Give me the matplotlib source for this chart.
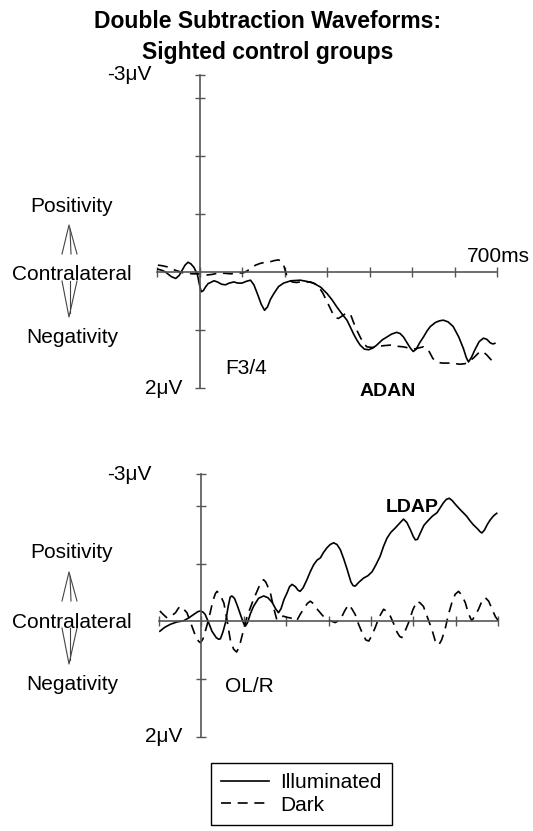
import matplotlib
matplotlib.use("Agg")
import matplotlib.pyplot as plt
from matplotlib.lines import Line2D

plt.rcParams['font.family'] = ['Liberation Sans', 'DejaVu Sans']

# ---- data (time in ms, amplitude in plot units; positive plotted downward) ----
f34_illum_t = [-98, -88, -80, -66, -56, -48, -41, -34, -27, -20, -13, -5, 0, 4, 9, 14, 20, 26, 34,
               42, 52, 61, 70, 81, 90, 100, 110, 120, 128, 136, 145, 153, 160, 167, 175, 186, 198,
               215, 237, 252, 268, 285, 300, 312, 323, 335, 347, 355, 362, 370, 378, 388, 398, 408,
               417, 430, 441, 452, 464, 472, 480, 490, 497, 503, 510, 518, 527, 535, 543, 555, 565,
               574, 585, 597, 610, 621, 628, 633, 640, 648, 658, 668, 676, 684, 690, 695]
f34_illum_v = [-0.05, -0.03, 0.0, 0.08, 0.11, 0.06, -0.03, -0.12, -0.17, -0.14, -0.08, 0.04, 0.22,
               0.34, 0.32, 0.26, 0.20, 0.18, 0.15, 0.17, 0.21, 0.22, 0.19, 0.17, 0.19, 0.19, 0.16,
               0.14, 0.22, 0.37, 0.55, 0.66, 0.60, 0.47, 0.37, 0.25, 0.19, 0.15, 0.14, 0.16, 0.19,
               0.26, 0.37, 0.48, 0.60, 0.72, 0.83, 0.95, 1.06, 1.17, 1.26, 1.33, 1.34, 1.31, 1.26,
               1.17, 1.12, 1.07, 1.04, 1.06, 1.12, 1.24, 1.32, 1.37, 1.33, 1.22, 1.12, 1.02, 0.94,
               0.87, 0.84, 0.83, 0.86, 0.94, 1.12, 1.32, 1.48, 1.55, 1.47, 1.34, 1.20, 1.14, 1.16,
               1.22, 1.24, 1.23]

f34_dark_t = [-98, -88, -76, -64, -52, -40, -29, -17, -5, 6, 18, 30, 42, 58, 73, 90, 104, 112, 120,
              132, 143, 155, 167, 177, 186, 192, 198, 202, 206, 212, 218, 228, 237, 250, 261, 271,
              280, 290, 300, 308, 315, 321, 327, 333, 339, 345, 351, 357, 362, 370, 378, 386, 394,
              405, 417, 433, 449, 465, 480, 492, 503, 515, 527, 538, 544, 549, 558, 570, 590, 613,
              625, 633, 645, 660, 668, 676, 687, 695]
f34_dark_v = [-0.12, -0.11, -0.09, -0.05, -0.02, 0.01, 0.02, 0.03, 0.03, 0.04, 0.05, 0.04, 0.02,
              0.02, 0.03, 0.02, 0.01, -0.02, -0.06, -0.12, -0.15, -0.17, -0.18, -0.20, -0.21,
              -0.19, -0.12, -0.02, 0.08, 0.14, 0.17, 0.18, 0.17, 0.17, 0.17, 0.20, 0.25, 0.36,
              0.51, 0.63, 0.74, 0.79, 0.80, 0.77, 0.74, 0.71, 0.71, 0.76, 0.86, 1.00, 1.12, 1.23,
              1.29, 1.30, 1.29, 1.27, 1.26, 1.28, 1.29, 1.31, 1.33, 1.31, 1.29, 1.34, 1.42, 1.49,
              1.55, 1.57, 1.57, 1.59, 1.58, 1.55, 1.48, 1.37, 1.38, 1.43, 1.52, 1.57]

olr_illum_t = [-98, -86, -73, -58, -42, -30, -18, -8, -2, 4, 9, 17, 25, 35, 41, 45, 51, 57, 63, 68,
               72, 78, 84, 94, 100, 104, 109, 116, 123, 135, 147, 157, 167, 175, 182, 188, 195, 202,
               208, 214, 222, 228, 233, 240, 249, 257, 265, 273, 281, 288, 296, 304, 312, 320, 328,
               336, 344, 353, 358, 363, 372, 383, 393, 403, 412, 422, 430, 438, 447, 458, 468, 477,
               485, 493, 500, 505, 510, 518, 525, 532, 545, 556, 564, 571, 578, 585, 592, 600, 610,
               626, 634, 642, 652, 658, 662, 668, 675, 682, 690, 697]
olr_illum_v = [0.17, 0.10, 0.05, 0.01, -0.01, -0.06, -0.12, -0.17, -0.18, -0.16, -0.12, 0.02, 0.17,
               0.28, 0.31, 0.30, 0.18, 0.02, -0.25, -0.42, -0.44, -0.40, -0.29, -0.08, 0.04, 0.08,
               0.02, -0.14, -0.26, -0.40, -0.44, -0.41, -0.33, -0.22, -0.15, -0.22, -0.38, -0.49,
               -0.60, -0.64, -0.60, -0.54, -0.52, -0.58, -0.72, -0.86, -0.98, -1.06, -1.10, -1.19,
               -1.27, -1.33, -1.36, -1.33, -1.24, -1.08, -0.90, -0.68, -0.62, -0.61, -0.68, -0.75,
               -0.79, -0.86, -0.98, -1.13, -1.30, -1.44, -1.54, -1.62, -1.70, -1.77, -1.71, -1.59,
               -1.47, -1.41, -1.42, -1.55, -1.66, -1.72, -1.82, -1.88, -1.97, -2.05, -2.11, -2.13,
               -2.09, -2.02, -1.94, -1.82, -1.74, -1.67, -1.60, -1.55, -1.53, -1.58, -1.68, -1.76,
               -1.83, -1.87]

olr_dark_t = [-98, -90, -81, -70, -61, -55, -50, -44, -34, -24, -14, -7, -2, 4, 10, 17, 27, 33, 37,
              42, 48, 53, 60, 68, 76, 83, 89, 96, 108, 123, 136, 143, 147, 152, 158, 163, 170, 178,
              186, 194, 202, 210, 218, 225, 233, 241, 250, 257, 264, 270, 277, 285, 292, 304, 316,
              328, 338, 347, 355, 363, 371, 379, 388, 395, 402, 410, 420, 430, 438, 446, 455, 462,
              468, 473, 480, 489, 499, 509, 516, 524, 534, 544, 552, 560, 567, 575, 583, 591, 599,
              607, 615, 623, 630, 638, 646, 654, 662, 670, 678, 686, 694, 701]
olr_dark_v = [-0.18, -0.12, -0.06, -0.10, -0.15, -0.22, -0.26, -0.23, -0.15, 0.05, 0.25, 0.34, 0.37,
              0.30, 0.15, -0.03, -0.35, -0.48, -0.52, -0.48, -0.40, -0.32, -0.05, 0.31, 0.48, 0.53,
              0.45, 0.25, -0.09, -0.38, -0.60, -0.70, -0.72, -0.68, -0.58, -0.49, -0.25, -0.03,
              -0.08, -0.09, -0.07, -0.06, -0.04, -0.01, -0.12, -0.21, -0.31, -0.35, -0.31, -0.24,
              -0.18, -0.11, -0.06, -0.01, 0.02, -0.03, -0.18, -0.29, -0.22, -0.12, 0.05, 0.19, 0.32,
              0.34, 0.25, 0.11, -0.08, -0.21, -0.17, -0.09, 0.06, 0.19, 0.26, 0.28, 0.18, 0.02,
              -0.20, -0.35, -0.32, -0.26, -0.06, 0.14, 0.34, 0.41, 0.32, 0.14, -0.12, -0.32, -0.47,
              -0.52, -0.45, -0.32, -0.14, -0.01, -0.10, -0.21, -0.35, -0.41, -0.35, -0.21, -0.08,
              -0.01]

x_ticks = [-100, 0, 100, 200, 300, 400, 500, 600, 700]

W, H = 533, 831
fig = plt.figure(figsize=(W / 100, H / 100), dpi=100)


def px(x, y):
    return x / W, 1 - y / H


def add_axes(left, right, top, bottom):
    return fig.add_axes([left / W, 1 - bottom / H, (right - left) / W, (bottom - top) / H])


axis_col = '#555555'
line_kw = dict(color='black', lw=1.2, solid_joinstyle='round', dash_joinstyle='round')


def style_axes(ax, ymin, yticks):
    ax.set_xlim(-100, 700)
    ax.set_ylim(2.0, ymin)
    for s in ['top', 'right']:
        ax.spines[s].set_visible(False)
    ax.spines['left'].set_position(('data', 0))
    ax.spines['bottom'].set_position(('data', 0))
    for s in ['left', 'bottom']:
        ax.spines[s].set_color(axis_col)
        ax.spines[s].set_linewidth(1.2)
    ax.set_xticks(x_ticks)
    ax.set_yticks(yticks)
    ax.tick_params(direction='inout', length=7, width=1.0, color=axis_col,
                   labelleft=False, labelbottom=False)
    ax.patch.set_visible(False)


# top panel: F3/4
ax1 = add_axes(157, 497, 75, 388)
style_axes(ax1, -3.40, [-3.40, -3, -2, -1, 1, 2])
ax1.plot(f34_illum_t, f34_illum_v, label='Illuminated', **line_kw)
ax1.plot(f34_dark_t, f34_dark_v, dashes=(6, 4), label='Dark', **line_kw)

# bottom panel: OL/R
ax2 = add_axes(159, 498, 474, 737)
style_axes(ax2, -2.55, [-2.55, -2, -1, 1, 2])
ax2.plot(olr_illum_t, olr_illum_v, **line_kw)
ax2.plot(olr_dark_t, olr_dark_v, dashes=(6, 4), **line_kw)

# title
fig.text(*px(268, 22), 'Double Subtraction Waveforms:', ha='center', va='center',
         fontsize=16.5, fontweight='bold')
fig.text(*px(268, 53), 'Sighted control groups', ha='center', va='center',
         fontsize=16.5, fontweight='bold')

fs = 15
for dy, top_y, bot_y in [(0, 75, 388), (347, 474, 737)]:
    fig.text(*px(152, top_y), '-3\u03bcV', ha='right', va='center', fontsize=fs)
    fig.text(*px(182, bot_y), '2\u03bcV', ha='right', va='center', fontsize=fs)
    fig.text(*px(72, 206 + dy), 'Positivity', ha='center', va='center', fontsize=fs)
    fig.text(*px(72, 275 + dy), 'Contralateral', ha='center', va='center', fontsize=fs)
    fig.text(*px(72, 338 + dy), 'Negativity', ha='center', va='center', fontsize=fs)
    # up / down arrows
    for xs, ys in [([62, 69, 77], [254, 225, 254]), ([70, 71], [229, 254]),
                   ([62, 69, 77], [281, 317, 281]), ([70, 70], [281, 313])]:
        fx = [x / W for x in xs]
        fy = [1 - (y + dy) / H for y in ys]
        fig.add_artist(Line2D(fx, fy, color='#444444', lw=0.8))

fig.text(*px(530, 256), '700ms', ha='right', va='center', fontsize=fs)
fig.text(*px(225, 368), 'F3/4', ha='left', va='center', fontsize=fs)
fig.text(*px(360, 391), 'ADAN', ha='left', va='center', fontsize=14, fontweight='bold')
fig.text(*px(386, 507), 'LDAP', ha='left', va='center', fontsize=14, fontweight='bold')
fig.text(*px(225, 686), 'OL/R', ha='left', va='center', fontsize=fs)

leg = fig.legend(handles=ax1.get_lines(), loc='upper left', bbox_to_anchor=px(211, 763),
                 bbox_transform=fig.transFigure, fontsize=15, frameon=True, fancybox=False,
                 edgecolor='black', framealpha=1, handlelength=2.3, handletextpad=0.5,
                 labelspacing=0.15, borderpad=0.5, borderaxespad=0)
leg.get_frame().set_linewidth(1.0)

fig.savefig('out.png', dpi=100)
